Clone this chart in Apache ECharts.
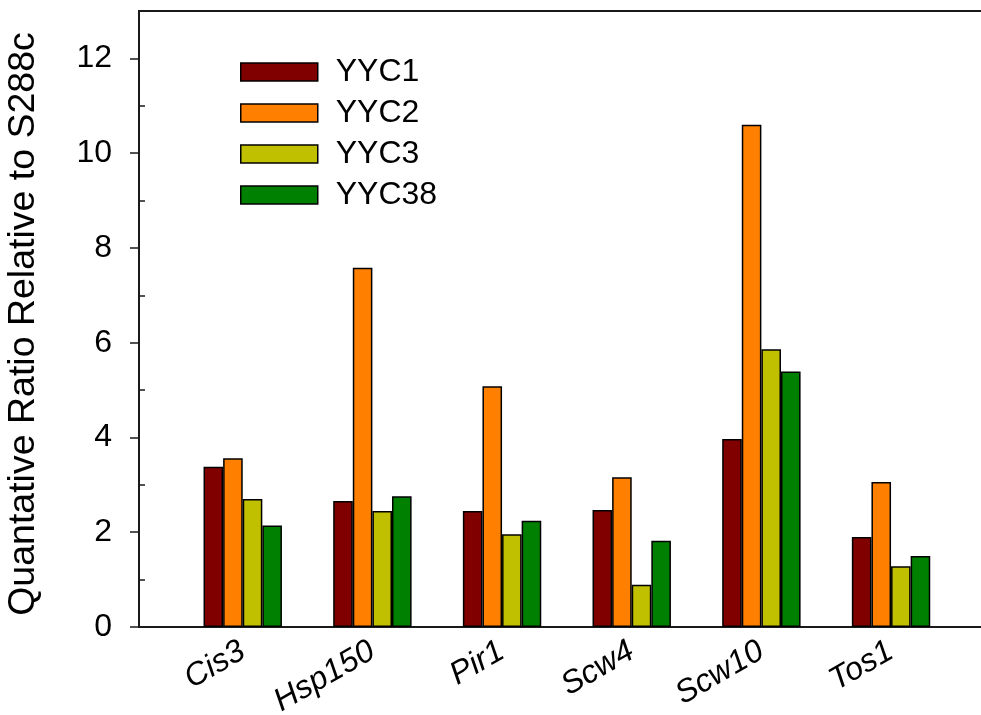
<!DOCTYPE html>
<html>
<head>
<meta charset="utf-8">
<title>Quantative Ratio Relative to S288c</title>
<script src="https://cdn.jsdelivr.net/npm/echarts@6/dist/echarts.min.js"></script>
<style>
  html, body { margin: 0; padding: 0; background: #fff; }
  #chart { width: 981px; height: 715px; }
</style>
</head>
<body>
<div id="chart"></div>
<script>
// Genes on the x axis
const categories = ['Cis3', 'Hsp150', 'Pir1', 'Scw4', 'Scw10', 'Tos1'];

// Ratio of each strain relative to S288c, one value per gene
const yyc1  = [3.38, 2.66, 2.45, 2.47, 3.97, 1.90];
const yyc2  = [3.56, 7.58, 5.08, 3.16, 10.60, 3.06];
const yyc3  = [2.70, 2.45, 1.96, 0.89, 5.86, 1.28];
const yyc38 = [2.14, 2.76, 2.24, 1.82, 5.39, 1.50];

const seriesNames = ['YYC1', 'YYC2', 'YYC3', 'YYC38'];
const seriesValues = [yyc1, yyc2, yyc3, yyc38];
const seriesColors = ['#800000', '#ff8000', '#c0c000', '#008000'];

// Y axis ticks: labelled major ticks and unlabelled minor ticks
const majorTicks = [0, 2, 4, 6, 8, 10, 12];
const minorTicks = [1, 3, 5, 7, 9, 11];
const categoryPositions = categories.map((_, i) => i);

const FONT = "'Liberation Sans', Arial, Helvetica, sans-serif";

const chart = echarts.init(document.getElementById('chart'), null, { renderer: 'canvas' });

const option = {
  backgroundColor: '#ffffff',
  animation: false,
  textStyle: { fontFamily: FONT, color: '#000' },
  grid: {
    left: 139, top: 11, right: -6, bottom: 88,
    containLabel: false,
    outerBoundsMode: 'none',
    show: true,
    borderColor: '#1a1a1a',
    borderWidth: 2,
    backgroundColor: 'transparent'
  },
  legend: {
    orient: 'vertical',
    left: 235,
    top: 51,
    itemWidth: 77,
    itemHeight: 18,
    itemGap: 9,
    icon: 'rect',
    selectedMode: false,
    data: seriesNames,
    itemStyle: { borderColor: '#000', borderWidth: 1.5 },
    textStyle: {
      fontFamily: FONT,
      fontSize: 32,
      lineHeight: 32,
      color: '#000',
      padding: [0, 0, 0, 13]
    }
  },
  xAxis: {
    type: 'value',
    min: -0.8,
    max: 5.74,
    splitLine: { show: false },
    axisLine: { show: true, onZero: false, lineStyle: { color: '#1a1a1a', width: 2 } },
    axisTick: { show: false },
    axisLabel: {
      customValues: categoryPositions,
      formatter: (v) => categories[Math.round(v)] || '',
      rotate: 30,
      margin: 22,
      fontFamily: FONT,
      fontStyle: 'italic',
      fontSize: 32,
      color: '#000'
    }
  },
  yAxis: [
    {
      type: 'value',
      min: 0,
      max: 13,
      position: 'left',
      name: 'Quantative Ratio Relative to S288c',
      nameLocation: 'middle',
      nameGap: 96,
      nameTextStyle: {
        fontFamily: FONT,
        fontSize: 37.5,
        color: '#000',
        padding: [0, 10, 0, 0]
      },
      splitLine: { show: false },
      axisLine: { show: true, onZero: false, lineStyle: { color: '#1a1a1a', width: 2 } },
      axisTick: {
        show: true,
        inside: false,
        length: 9,
        customValues: majorTicks,
        lineStyle: { color: '#1a1a1a', width: 1.5 }
      },
      axisLabel: {
        customValues: majorTicks,
        margin: 27,
        fontFamily: FONT,
        fontSize: 32,
        color: '#000'
      }
    },
    {
      type: 'value',
      min: 0,
      max: 13,
      position: 'left',
      splitLine: { show: false },
      axisLine: { show: false, onZero: false },
      axisTick: {
        show: true,
        inside: true,
        length: 6,
        customValues: minorTicks,
        lineStyle: { color: '#1a1a1a', width: 1.5 }
      },
      axisLabel: { show: false }
    }
  ],
  series: seriesNames.map((name, k) => ({
    name: name,
    type: 'bar',
    yAxisIndex: 0,
    barWidth: 19.6,
    barGap: '0%',
    itemStyle: {
      color: seriesColors[k],
      borderColor: '#000',
      borderWidth: 1.5
    },
    data: seriesValues[k].map((v, i) => [categoryPositions[i], v])
  }))
};

chart.setOption(option);
</script>
</body>
</html>
